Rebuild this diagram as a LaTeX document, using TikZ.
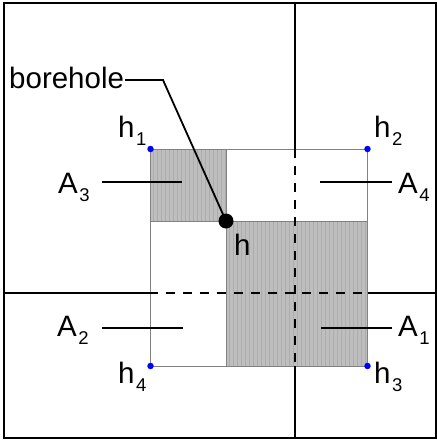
\documentclass[tikz,border=0pt]{standalone}
\usepackage{fontspec}
\setmainfont{Liberation Sans}
\definecolor{shadegray}{RGB}{190,190,190}
\definecolor{stripegray}{RGB}{172,172,172}
\definecolor{edgegray}{RGB}{130,130,130}
\newcommand{\mysub}[1]{\kern1.5pt\raisebox{-8pt}{\fontsize{18.5}{18}\selectfont #1}}
\begin{document}
\begin{tikzpicture}[x=1pt,y=-1pt,
  lbl/.style={inner sep=0pt, anchor=base west, font=\fontsize{29.5}{31}\selectfont},
  gridline/.style={line width=2pt, black},
  gapline/.style={line width=2pt, black, dash pattern=on 9pt off 8pt},
  leader/.style={line width=1.8pt, black},
  shadebox/.style={fill=shadegray},
  edge/.style={draw=edgegray, line width=1pt},
  cornerdot/.style={circle, fill=blue, inner sep=0pt, minimum size=6.5pt},
  ]
\useasboundingbox (0,0) rectangle (437,440);
% corner points of the cell
\coordinate (h1) at (150.5,149);
\coordinate (h2) at (367.5,149);
\coordinate (h3) at (367.5,366);
\coordinate (h4) at (150.5,366);
\coordinate (bh) at (226,221);
% shaded areas
\fill[shadebox] (h1) rectangle (bh);
\fill[shadebox] (bh) rectangle (h3);
\begin{scope}
  \clip (h1) rectangle (bh) (bh) rectangle (h3);
  \foreach \x in {153,157,...,367} {
    \draw[stripegray, line width=0.9pt] (\x,149) -- (\x,366);
  }
\end{scope}
\draw[edge] (h1) rectangle (bh);
\draw[edge] (bh) rectangle (h3);
\draw[edge] (h1) rectangle (h3);
% outer frame
\draw[gridline] (4,3) rectangle (435.5,438);
% grid lines
\coordinate (vt) at (294.5,3);
\coordinate (vs1) at (294.5,149);
\coordinate (vs2) at (294.5,366);
\coordinate (vb) at (294.5,438);
\coordinate (hl) at (4,293);
\coordinate (hs1) at (150.5,293);
\coordinate (hs2) at (367.5,293);
\coordinate (hr) at (435.5,293);
\draw[gridline] (vt) -- (vs1);
\draw[gapline] (vs1) -- (vs2);
\draw[gridline] (vs2) -- (vb);
\draw[gridline] (hl) -- (hs1);
\draw[gapline, dash phase=2pt] (hs1) -- (hs2);
\draw[gridline] (hs2) -- (hr);
% corner dots
\node[cornerdot] (d1) at (h1) {};
\node[cornerdot] (d2) at (h2) {};
\node[cornerdot] (d3) at (h3) {};
\node[cornerdot] (d4) at (h4) {};
% borehole
\node[circle, fill=black, inner sep=0pt, minimum size=15pt] (hdot) at (bh) {};
\node[lbl] (bore) at (9,88) {borehole};
\coordinate (b1) at (125,80);
\coordinate (b2) at (163,80);
\draw[leader] (b1) -- (b2) -- (hdot.center);
% h labels
\node[lbl] (lh1) at (118,137) {h\mysub{1}};
\node[lbl] (lh2) at (374,137) {h\mysub{2}};
\node[lbl] (lh3) at (374,383) {h\mysub{3}};
\node[lbl] (lh4) at (118,383) {h\mysub{4}};
\node[lbl] (lh) at (234,255) {h};
% area labels
\node[lbl] (A3) at (58,193) {A\mysub{3}};
\node[lbl] (A4) at (398,193) {A\mysub{4}};
\node[lbl] (A2) at (57,336) {A\mysub{2}};
\node[lbl] (A1) at (398,336) {A\mysub{1}};
\coordinate (a3s) at (102,182); \coordinate (a3e) at (182,182);
\coordinate (a4s) at (320,182); \coordinate (a4e) at (392,182);
\coordinate (a2s) at (102,328); \coordinate (a2e) at (183,328);
\coordinate (a1s) at (321,328); \coordinate (a1e) at (392,328);
\draw[leader] (a3s) -- (a3e);
\draw[leader] (a4s) -- (a4e);
\draw[leader] (a2s) -- (a2e);
\draw[leader] (a1s) -- (a1e);
\end{tikzpicture}
\end{document}
